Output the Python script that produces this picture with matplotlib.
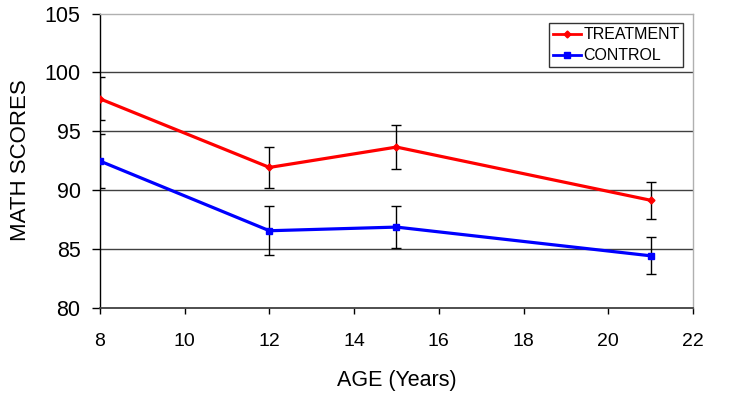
import matplotlib
matplotlib.use("Agg")
import matplotlib.pyplot as plt

plt.rcParams['font.family'] = ['Liberation Sans', 'DejaVu Sans']

age = [8, 12, 15, 21]
treatment = [97.75, 91.92, 93.65, 89.13]
treatment_err = [1.83, 1.72, 1.9, 1.58]
control = [92.46, 86.54, 86.85, 84.41]
control_err = [2.29, 2.08, 1.8, 1.58]

xticks = [8, 10, 12, 14, 16, 18, 20, 22]
yticks = [80, 85, 90, 95, 100, 105]

fig = plt.figure(figsize=(7.32, 3.93), dpi=100)
ax = fig.add_axes([100/732, (393-307.7)/393, (693-100)/732, (307.7-13.5)/393])

for y in yticks[1:-1]:
    ax.axhline(y, color='#404040', lw=1.0, zorder=1)

ax.errorbar(age, treatment, yerr=treatment_err, fmt='none', ecolor='black',
            elinewidth=1.0, capsize=3.5, capthick=1.0, zorder=2)
ax.errorbar(age, control, yerr=control_err, fmt='none', ecolor='black',
            elinewidth=1.0, capsize=3.5, capthick=1.0, zorder=2)
ax.plot(age, treatment, color='#ff0000', lw=2.3, marker='D', ms=3.5,
        label='TREATMENT', zorder=3)
ax.plot(age, control, color='#0000ff', lw=2.3, marker='s', ms=4,
        label='CONTROL', zorder=3)

ax.set_xlim(8, 22)
ax.set_ylim(80, 105)
ax.set_xticks(xticks)
ax.set_yticks(yticks)
ax.tick_params(axis='x', direction='out', length=4.5, width=1, labelsize=14,
               colors='black', pad=14)
ax.tick_params(axis='y', direction='out', length=6, width=1, labelsize=15.5,
               colors='black', pad=8)

ax.spines['left'].set_color('black')
ax.spines['bottom'].set_color('#404040')
ax.spines['top'].set_color('#b0b0b0')
ax.spines['right'].set_color('#b0b0b0')
for s in ax.spines.values():
    s.set_linewidth(1.0)
ax.spines['bottom'].set_linewidth(1.3)

ax.set_xlabel('AGE (Years)', fontsize=15.5, labelpad=14)
ax.set_ylabel('MATH SCORES', fontsize=16, labelpad=9.6)

leg = ax.legend(loc='upper right', bbox_to_anchor=(0.9836, 0.9667), fontsize=11.5,
                frameon=True, fancybox=False, edgecolor='black', handlelength=1.75,
                handletextpad=0.15, borderpad=0.24, labelspacing=0.38,
                borderaxespad=0)
leg.get_frame().set_linewidth(1.0)
for line in leg.get_lines():
    line.set_linewidth(2.0)

fig.savefig('out.png', dpi=100)
